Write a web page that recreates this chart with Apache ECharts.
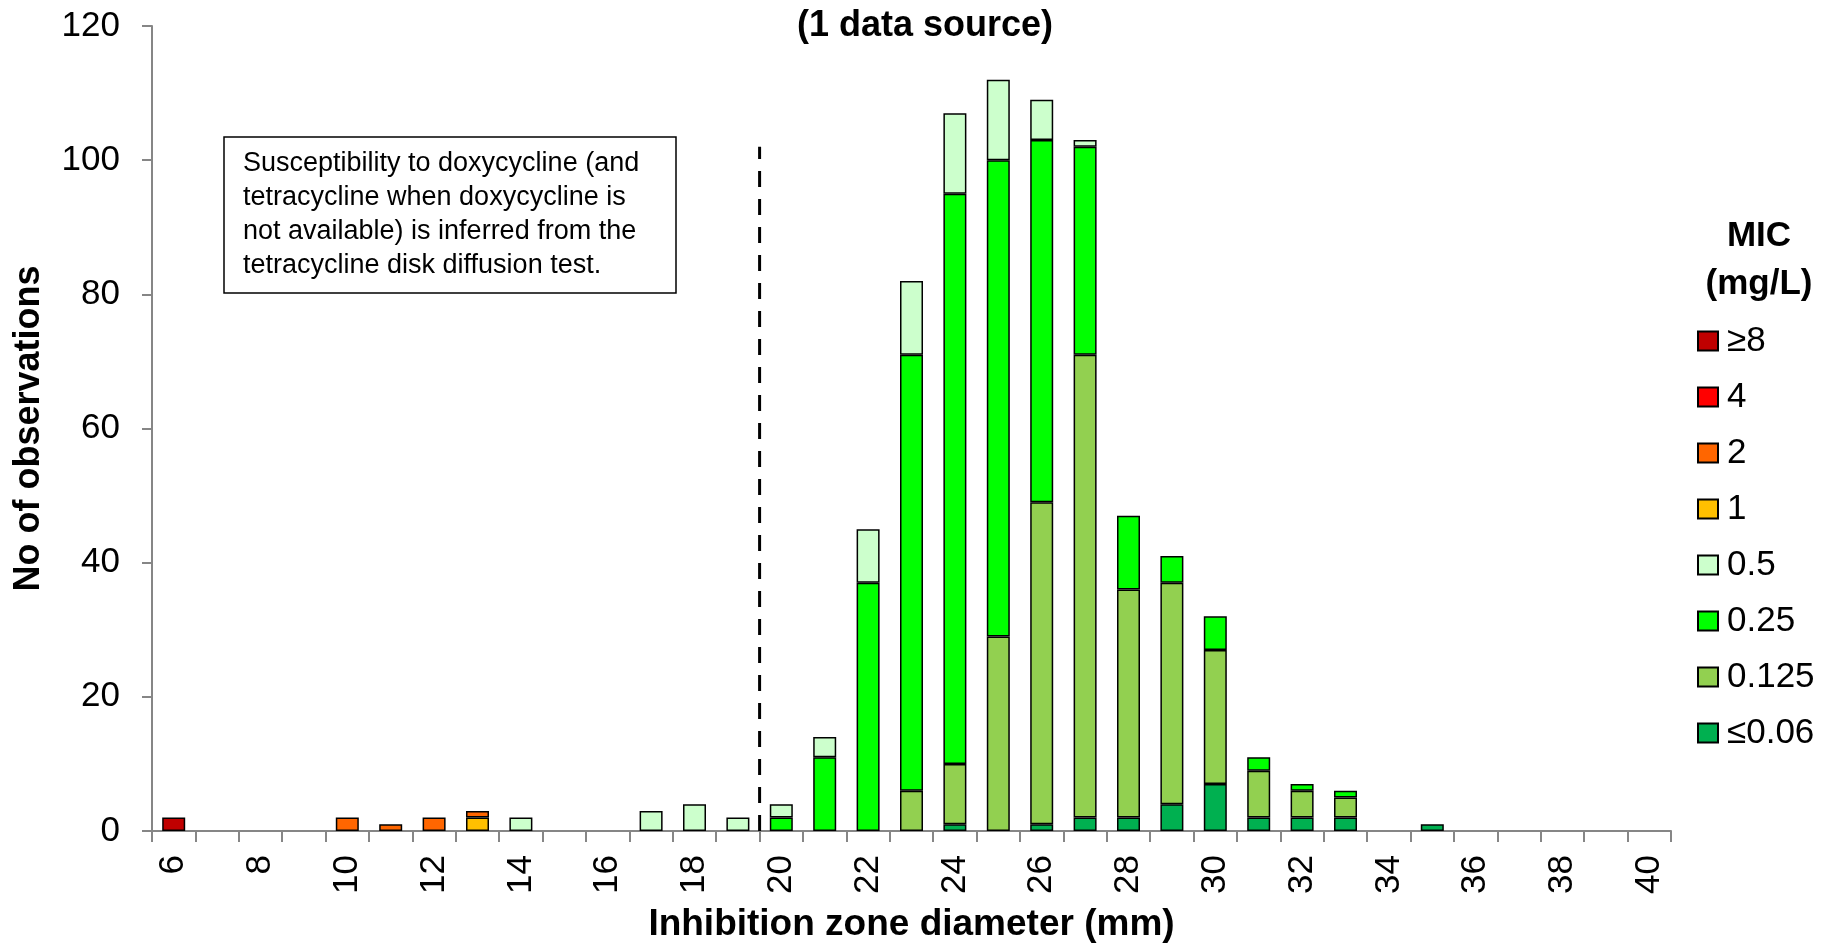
<!DOCTYPE html>
<html>
<head>
<meta charset="utf-8">
<script src="https://cdn.jsdelivr.net/npm/echarts@6/dist/echarts.min.js"></script>
<style>
html,body{margin:0;padding:0;background:#fff;}
#chart{width:1822px;height:944px;}
</style>
</head>
<body>
<div id="chart"></div>
<script>
// Inhibition zone diameters (mm)
const categories = ['6','7','8','9','10','11','12','13','14','15','16','17','18','19','20','21','22','23','24','25','26','27','28','29','30','31','32','33','34','35','36','37','38','39','40'];
// MIC classes (stack order, bottom to top)
const micLE006 = [0,0,0,0,0,0,0,0,0,0,0,0,0,0,0,0,0,0,1,0,1,2,2,4,7,2,2,2,0,1,0,0,0,0,0];
const mic0125  = [0,0,0,0,0,0,0,0,0,0,0,0,0,0,0,0,0,6,9,29,48,69,34,33,20,7,4,3,0,0,0,0,0,0,0];
const mic025   = [0,0,0,0,0,0,0,0,0,0,0,0,0,0,2,11,37,65,85,71,54,31,11,4,5,2,1,1,0,0,0,0,0,0,0];
const mic05    = [0,0,0,0,0,0,0,0,2,0,0,3,4,2,2,3,8,11,12,12,6,1,0,0,0,0,0,0,0,0,0,0,0,0,0];
const mic1     = [0,0,0,0,0,0,0,2,0,0,0,0,0,0,0,0,0,0,0,0,0,0,0,0,0,0,0,0,0,0,0,0,0,0,0];
const mic2     = [0,0,0,0,2,1,2,1,0,0,0,0,0,0,0,0,0,0,0,0,0,0,0,0,0,0,0,0,0,0,0,0,0,0,0];
const mic4     = [0,0,0,0,0,0,0,0,0,0,0,0,0,0,0,0,0,0,0,0,0,0,0,0,0,0,0,0,0,0,0,0,0,0,0];
const micGE8   = [2,0,0,0,0,0,0,0,0,0,0,0,0,0,0,0,0,0,0,0,0,0,0,0,0,0,0,0,0,0,0,0,0,0,0];
const yTicks = [0,20,40,60,80,100,120];
// Breakpoint (dashed line) position and height
const breakpointX = 19.5;
const breakpointTop = 102;

const FONT = '"Liberation Sans", Arial, sans-serif';
const seriesDefs = [
  {name:'≤0.06', data:micLE006, color:'#00B050'},
  {name:'0.125', data:mic0125, color:'#92D050'},
  {name:'0.25',  data:mic025,  color:'#00FF00'},
  {name:'0.5',   data:mic05,   color:'#CCFFCC'},
  {name:'1',     data:mic1,    color:'#FFC000'},
  {name:'2',     data:mic2,    color:'#FF6600'},
  {name:'4',     data:mic4,    color:'#FF0000'},
  {name:'≥8',    data:micGE8,  color:'#C00000'}
];

const chart = echarts.init(document.getElementById('chart'), null, {renderer:'canvas'});

const series = seriesDefs.map(d => ({
  name: d.name,
  type: 'bar',
  stack: 'mic',
  barWidth: 23,
  xAxisIndex: 0,
  yAxisIndex: 0,
  itemStyle: {color: d.color, borderColor: '#000', borderWidth: 1.5},
  emphasis: {disabled: true},
  data: d.data.map(v => v === 0 ? null : v)
}));

series.push({
  name: 'breakpoint',
  type: 'line',
  xAxisIndex: 1,
  yAxisIndex: 0,
  symbol: 'none',
  silent: true,
  lineStyle: {color: '#000', width: 3, type: [16, 12]},
  data: [[breakpointX, 0], [breakpointX, breakpointTop]],
  z: 5
});

const option = {
  animation: false,
  backgroundColor: '#fff',
  title: {
    text: '(1 data source)',
    left: 797,
    top: 8,
    padding: 0,
    textStyle: {fontFamily: FONT, fontSize: 36, fontWeight: 'bold', color: '#000'}
  },
  grid: {left: 152, right: 151, top: 26, bottom: 113, outerBoundsMode: 'none', containLabel: false},
  legend: {
    orient: 'vertical',
    left: 1697,
    top: 323,
    padding: 0,
    itemWidth: 20,
    itemHeight: 19,
    itemGap: 20,
    icon: 'rect',
    data: ['≥8','4','2','1','0.5','0.25','0.125','≤0.06'],
    textStyle: {fontFamily: FONT, fontSize: 35, color: '#000', lineHeight: 36, padding: [0,0,0,4]},
    selectedMode: false
  },
  xAxis: [
    {
      type: 'category',
      data: categories,
      name: 'Inhibition zone diameter (mm)',
      nameLocation: 'middle',
      nameGap: 75,
      nameTextStyle: {fontFamily: FONT, fontSize: 37, fontWeight: 'bold', color: '#000'},
      axisLine: {lineStyle: {color: '#868686', width: 2}},
      axisTick: {show: true, interval: 0, length: 11, lineStyle: {color: '#868686', width: 2}},
      axisLabel: {interval: 1, rotate: 90, margin: 24, fontFamily: FONT, fontSize: 35, color: '#000'},
      splitLine: {show: false}
    },
    {
      type: 'value',
      min: 5.5,
      max: 40.5,
      show: false,
      splitLine: {show: false}
    }
  ],
  yAxis: {
    type: 'value',
    min: yTicks[0],
    max: yTicks[yTicks.length - 1],
    interval: yTicks[1] - yTicks[0],
    name: 'No of observations',
    nameLocation: 'middle',
    nameGap: 105,
    nameTextStyle: {fontFamily: FONT, fontSize: 36, fontWeight: 'bold', color: '#000'},
    axisLine: {show: true, lineStyle: {color: '#868686', width: 2}},
    axisTick: {show: true, length: 10, lineStyle: {color: '#868686', width: 2}},
    axisLabel: {margin: 32, fontFamily: FONT, fontSize: 35, color: '#000'},
    splitLine: {show: false}
  },
  graphic: [
    {
      type: 'rect',
      shape: {x: 224, y: 137, width: 452, height: 156},
      style: {fill: '#fff', stroke: '#000', lineWidth: 1.5},
      z: 10
    },
    {
      type: 'text',
      x: 243,
      y: 147,
      style: {
        text: 'Susceptibility to doxycycline (and\ntetracycline when doxycycline is\nnot available) is inferred from the\ntetracycline disk diffusion test.',
        font: '27px ' + FONT,
        lineHeight: 34,
        fill: '#000'
      },
      z: 11
    },
    {
      type: 'text',
      x: 1759,
      y: 212,
      style: {
        text: 'MIC\n(mg/L)',
        font: 'bold 35px ' + FONT,
        lineHeight: 48,
        fill: '#000',
        align: 'center'
      },
      z: 11
    }
  ],
  series: series
};

chart.setOption(option);
</script>
</body>
</html>
